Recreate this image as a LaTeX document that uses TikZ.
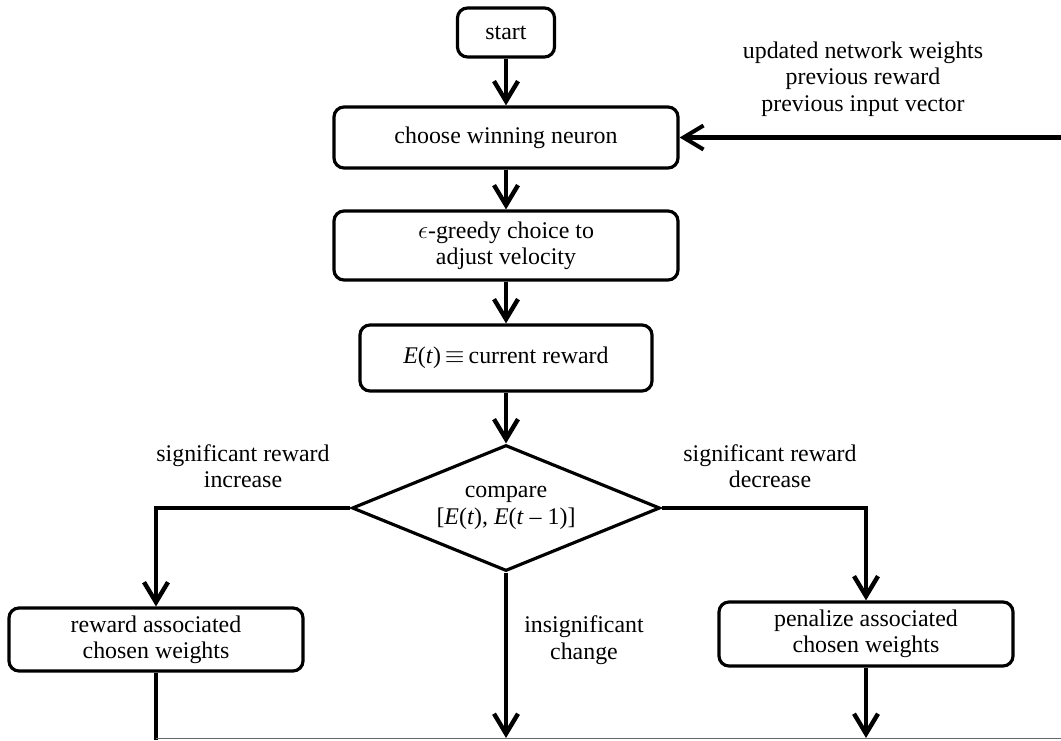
\documentclass[tikz,border=0pt]{standalone}
\usepackage{fontspec}
\setmainfont{Liberation Serif}
\usetikzlibrary{arrows.meta,shapes.geometric}
\begin{document}
\begin{tikzpicture}
	\tikzset{box/.style={draw, line width=1.8pt, rounded corners=0.2cm, align=center, inner sep=2pt},
		flow/.style={line width=2.5pt, -{Straight Barb[length=4mm, width=4.8mm]}},
		every node/.style={font=\fontsize{13.6}{15}\selectfont, align=center}}
	\useasboundingbox (0,0) rectangle (21.22,14.8);
	%Kette oben
	\node[box, minimum width=1.94cm, minimum height=0.98cm] (start) at (10.12,14.15) {start};
	\node[box, minimum width=6.88cm, minimum height=1.22cm] (choose) at (10.12,12.05) {choose winning neuron};
	\node[box, minimum width=6.88cm, minimum height=1.38cm] (greedy) at (10.12,9.89) {$\epsilon$-greedy choice to\\adjust velocity};
	\node[box, minimum width=5.84cm, minimum height=1.32cm] (reward) at (10.12,7.64) {\textit{E}(\textit{t})\,$\equiv$\,current reward};
	\node[diamond, draw, line width=1.8pt, shape aspect=2.44, inner sep=0pt,
		minimum width=6.16cm, minimum height=2.52cm] (cmp) at (10.12,4.64)
		{compare\\{[}\textit{E}(\textit{t}), \textit{E}(\textit{t} -- 1)]};
	\draw[flow] (start) -- (choose);
	\draw[flow] (choose) -- (greedy);
	\draw[flow] (greedy) -- (reward);
	\draw[flow] (reward) -- (cmp);
	
	%Rueckfuehrung
	\coordinate (in) at (21.22,12.05);
	\draw[flow, line width=2.3pt] (in) -- (choose.east);
	\node (fb) at (17.26,13.22) {updated network weights\\previous reward\\previous input vector};
	
	%Verzweigung
	\node[box, minimum width=5.88cm, minimum height=1.26cm] (plus) at (3.12,2.01) {reward associated\\chosen weights};
	\node[box, minimum width=5.88cm, minimum height=1.28cm] (minus) at (17.32,2.12) {penalize associated\\chosen weights};
	\draw[flow] (cmp.west) -| (plus.north);
	\draw[flow] (cmp.east) -| (minus.north);
	\node (up) at (4.86,5.48) {significant reward\\increase};
	\node (down) at (15.40,5.48) {significant reward\\decrease};
	\node (same) at (11.68,2.0) {insignificant\\change};
	
	%Ausgaenge unten
	\coordinate (outA) at (3.12,0);
	\coordinate (outB) at (10.12,0.04);
	\coordinate (outC) at (17.32,0.04);
	\coordinate (edge) at (21.22,0.04);
	\draw[line width=2.5pt] (plus.south) -- (outA);
	\draw[flow] (cmp.south) -- (outB);
	\draw[flow] (minus.south) -- (outC);
	\draw[black!60, line width=0.5pt] (outA |- outB) -- (edge);
\end{tikzpicture}
\end{document}
